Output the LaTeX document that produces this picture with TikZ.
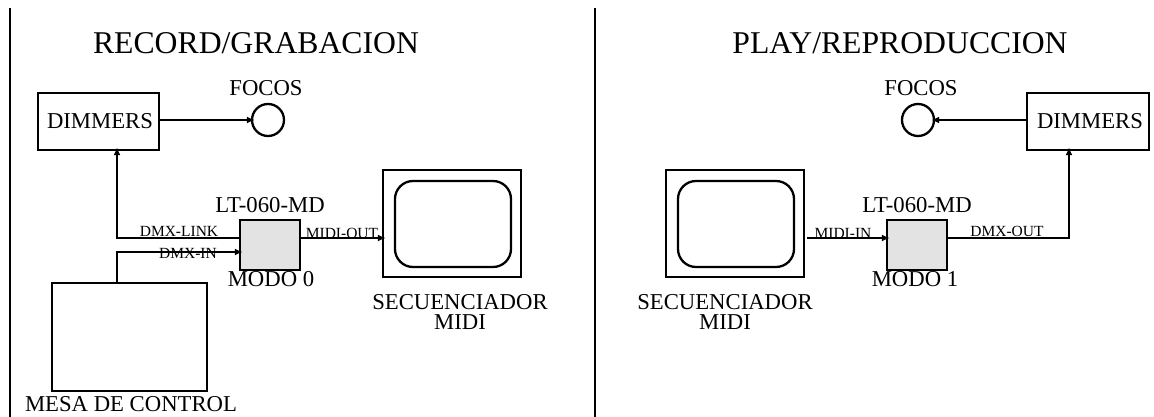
\documentclass[tikz,border=0pt]{standalone}
\usepackage{fontspec}
\setmainfont{Liberation Serif}
\usetikzlibrary{arrows.meta}
\tikzset{
  wire/.style={line width=2.3pt,-{Latex[length=8pt,width=7pt]},shorten >=-4pt},
  box/.style={draw,line width=2.3pt,inner sep=0pt,fill=white},
  unit/.style={box,fill=black!11,minimum width=60pt,minimum height=50pt},
  lbl/.style={inner sep=0pt,font=\fontsize{22.7}{20}\selectfont},
  small/.style={inner sep=0pt,font=\fontsize{15.5}{15.5}\selectfont},
  ttl/.style={inner sep=0pt,font=\fontsize{31.7}{32}\selectfont},
  screen/.style={draw,line width=2.3pt,rounded corners=18pt,minimum width=116pt,minimum height=86pt,inner sep=0pt},
  mon/.style={box,minimum width=138pt,minimum height=107pt},
  lamp/.style={draw,circle,line width=2.3pt,minimum size=32pt,inner sep=0pt,fill=white}
}
\begin{document}
\begin{tikzpicture}[x=1pt,y=-1pt]
\useasboundingbox (0,0) rectangle (1154,417);
% dividers
\coordinate (d1a) at (10,8); \coordinate (d1b) at (10,417);
\coordinate (d2a) at (595,8); \coordinate (d2b) at (595,417);
\draw[line width=2.3pt] (d1a)--(d1b);
\draw[line width=2.3pt] (d2a)--(d2b);
% titles
\node[ttl] (t1) at (256,43) {RECORD/GRABACION};
\node[ttl] (t2) at (900,43) {PLAY/REPRODUCCION};
% left panel
\node[box,minimum width=121pt,minimum height=57pt] (dimL) at (98.5,121.5) {};
\node[lbl] (dimLt) at (100,121) {DIMMERS};
\node[lamp] (focL) at (268,120) {};
\node[lbl] (focLt) at (266,88) {FOCOS};
\node[box,minimum width=155pt,minimum height=108pt] (mesa) at (129.5,337) {};
\node[lbl] (mesat) at (131,404) {MESA DE CONTROL};
\node[unit] (ltL) at (270,245) {};
\node[lbl] (ltLt) at (270,205) {LT-060-MD};
\node[lbl] (modL) at (271,279) {MODO 0};
\node[mon] (monL) at (452,223.5) {};
\node[screen] (scrL) at (453,224) {};
\node[lbl,align=center] (secL) at (460,312) {SECUENCIADOR\\MIDI};
\coordinate (linkL) at (ltL.west|-0,238);
\coordinate (inL) at (ltL.west|-0,252);
\coordinate (outL) at (ltL.east|-0,238);
\coordinate (upL) at (117,238);
\coordinate (upI) at (117,252);
\draw[wire] (dimL.east|-focL) -- (focL.west);
\draw[wire] (linkL) -- (upL) -- (upL|-dimL.south);
\node[small] (b) at (188,253.5) {DMX-IN};
\draw[wire] (upI|-mesa.north) -- (upI) -- (inL);
\node[small] (c) at (342,233) {MIDI-OUT};
\draw[wire] (outL) -- (outL-|monL.west);
\node[small] (a) at (179,231) {DMX-LINK};
% right panel
\node[box,minimum width=122pt,minimum height=57pt] (dimR) at (1088,121.5) {};
\node[lbl] (dimRt) at (1090,121) {DIMMERS};
\node[lamp] (focR) at (918,120) {};
\node[lbl] (focRt) at (921,88) {FOCOS};
\node[unit] (ltR) at (917,245) {};
\node[lbl] (ltRt) at (917,205) {LT-060-MD};
\node[lbl] (modR) at (915,279) {MODO 1};
\node[mon] (monR) at (735,223.5) {};
\node[screen] (scrR) at (736,224) {};
\node[lbl,align=center] (secR) at (725,312) {SECUENCIADOR\\MIDI};
\coordinate (outR) at (ltR.east|-0,238);
\coordinate (upR) at (1069,238);
\coordinate (inS) at (807,238);
\draw[wire] (dimR.west|-focR) -- (focR.east);
\draw[wire] (outR) -- (upR) -- (upR|-dimR.south);
\node[small] (e) at (843,233) {MIDI-IN};
\draw[wire] (inS) -- (inS-|ltR.west);
\node[small] (d) at (1007,231) {DMX-OUT};
\end{tikzpicture}
\end{document}
